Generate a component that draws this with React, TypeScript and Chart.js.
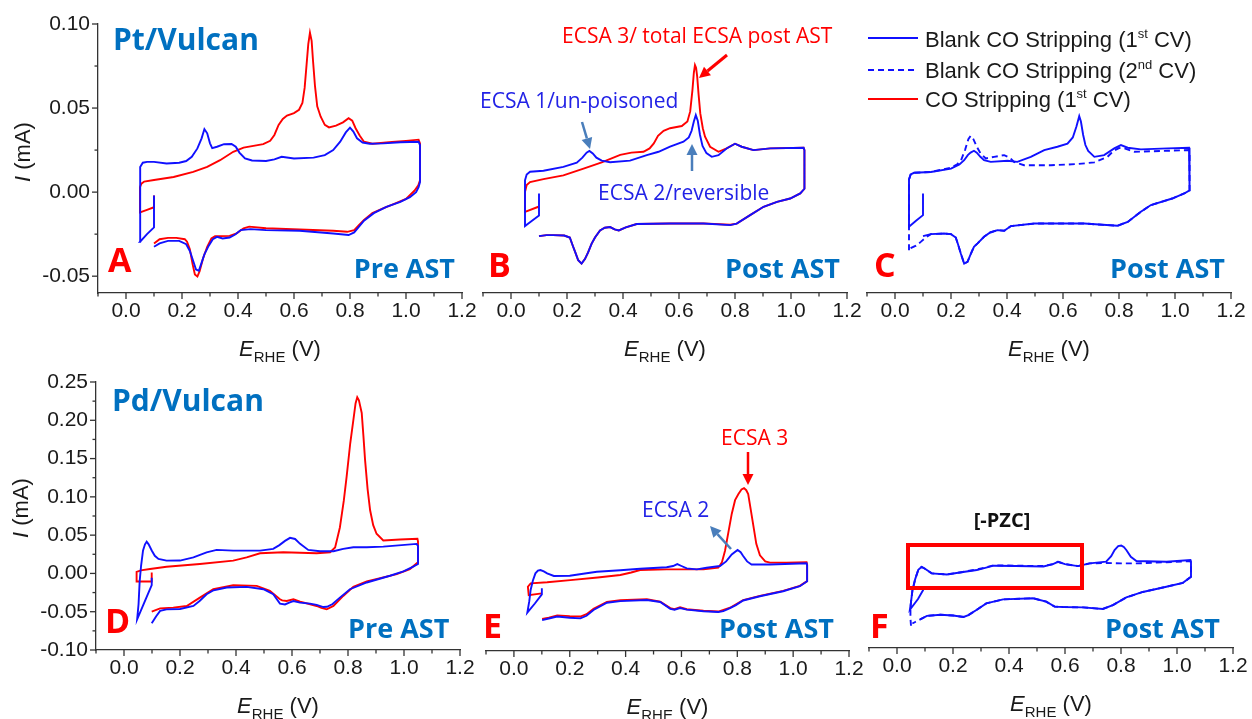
import React, { useEffect, useRef } from 'react';
import { Chart, registerables } from 'chart.js';

Chart.register(...registerables);

type Pt = [number, number];

// ---------- axis ticks ----------
const xTickValues = [0, 0.2, 0.4, 0.6, 0.8, 1.0, 1.2];
const xMinorValues = [-0.1, 0.1, 0.3, 0.5, 0.7, 0.9, 1.1];
const ptYTicks = [-0.05, 0, 0.05, 0.1];
const ptYMinor = [-0.025, 0.025, 0.075];
const pdYTicks = [-0.1, -0.05, 0, 0.05, 0.1, 0.15, 0.2, 0.25];
const pdYMinor = [-0.075, -0.025, 0.025, 0.075, 0.125, 0.175, 0.225];

// ---------- A: Pt/Vulcan pre AST ----------
const ptPreBlank: Pt[] = [
  [0.1, -0.002], [0.1, -0.021], [0.075, -0.025], [0.05, -0.0296], [0.05, -0.01], [0.05, 0.01], [0.052, 0.015],
  [0.06, 0.0175], [0.075, 0.018], [0.1, 0.018], [0.145, 0.017], [0.19, 0.0175], [0.215, 0.0185], [0.235, 0.021],
  [0.255, 0.026], [0.27, 0.032], [0.28, 0.0375], [0.29, 0.035], [0.3, 0.029], [0.308, 0.0262], [0.325, 0.027],
  [0.35, 0.0285], [0.377, 0.0286], [0.392, 0.027], [0.405, 0.0235], [0.425, 0.02], [0.45, 0.0188], [0.5, 0.0185],
  [0.53, 0.0195], [0.556, 0.021], [0.6, 0.02], [0.67, 0.0205], [0.71, 0.022], [0.74, 0.025], [0.765, 0.03],
  [0.785, 0.0355], [0.8, 0.0383], [0.812, 0.036], [0.825, 0.032], [0.845, 0.0295], [0.87, 0.0288], [0.92, 0.029],
  [0.98, 0.0297], [1.045, 0.03], [1.05, 0.028], [1.05, 0.006], [1.045, 0.003], [1.036, 0.0], [1.014, -0.003],
  [0.98, -0.0058], [0.93, -0.0088], [0.885, -0.0125], [0.85, -0.017], [0.83, -0.021], [0.815, -0.024],
  [0.795, -0.0255], [0.74, -0.0246], [0.62, -0.023], [0.5, -0.0226], [0.445, -0.022], [0.41, -0.0226],
  [0.39, -0.0252], [0.37, -0.027], [0.345, -0.0276], [0.325, -0.0266], [0.31, -0.028], [0.295, -0.032],
  [0.28, -0.037], [0.268, -0.043], [0.26, -0.0468], [0.25, -0.046], [0.24, -0.041], [0.228, -0.035],
  [0.215, -0.031], [0.19, -0.029], [0.15, -0.029], [0.12, -0.0305], [0.1, -0.0325],
];
const ptPreCO: Pt[] = [
  [0.1, -0.002], [0.1, -0.009], [0.075, -0.0105], [0.05, -0.012], [0.05, 0.003], [0.055, 0.005], [0.065, 0.0063],
  [0.1, 0.0072], [0.17, 0.009], [0.24, 0.012], [0.29, 0.015], [0.336, 0.019], [0.383, 0.024], [0.42, 0.0265],
  [0.49, 0.0285], [0.515, 0.0305], [0.53, 0.034], [0.545, 0.04], [0.56, 0.0435], [0.575, 0.0455], [0.6, 0.047],
  [0.618, 0.049], [0.63, 0.053], [0.638, 0.062], [0.645, 0.076], [0.651, 0.088], [0.657, 0.0948], [0.663, 0.09],
  [0.668, 0.078], [0.675, 0.063], [0.683, 0.051], [0.695, 0.045], [0.71, 0.04], [0.725, 0.0385], [0.75, 0.0395],
  [0.775, 0.0415], [0.795, 0.044], [0.808, 0.0425], [0.82, 0.038], [0.835, 0.0335], [0.85, 0.03], [0.88, 0.0288],
  [0.95, 0.0298], [1.0, 0.0305], [1.045, 0.0312], [1.05, 0.029], [1.05, 0.007], [1.044, 0.004], [1.03, 0.0008],
  [1.0, -0.004], [0.96, -0.0068], [0.92, -0.0095], [0.88, -0.0125], [0.85, -0.0165], [0.83, -0.02],
  [0.815, -0.0226], [0.79, -0.0236], [0.74, -0.023], [0.62, -0.0222], [0.5, -0.0215], [0.44, -0.0205],
  [0.42, -0.0215], [0.395, -0.0245], [0.37, -0.026], [0.34, -0.0262], [0.318, -0.0262], [0.305, -0.0275],
  [0.29, -0.0325], [0.275, -0.0395], [0.263, -0.047], [0.255, -0.0502], [0.246, -0.049], [0.238, -0.043],
  [0.228, -0.034], [0.218, -0.0295], [0.21, -0.028], [0.18, -0.0272], [0.15, -0.0272], [0.12, -0.028], [0.1, -0.0306],
];

// ---------- B: Pt/Vulcan post AST ----------
const ptPostBlank: Pt[] = [
  [0.1, -0.0008], [0.1, -0.0139], [0.075, -0.017], [0.05, -0.0202], [0.05, 0.0], [0.05, 0.007], [0.056, 0.0105],
  [0.068, 0.0121], [0.116, 0.0127], [0.187, 0.015], [0.235, 0.0175], [0.255, 0.0205], [0.27, 0.0235], [0.28, 0.0245],
  [0.292, 0.023], [0.305, 0.0205], [0.324, 0.0187], [0.354, 0.0178], [0.425, 0.0187], [0.485, 0.022], [0.527, 0.024],
  [0.568, 0.027], [0.616, 0.03], [0.635, 0.0325], [0.645, 0.0365], [0.653, 0.042], [0.66, 0.0458], [0.667, 0.0425],
  [0.675, 0.034], [0.684, 0.0275], [0.698, 0.0232], [0.717, 0.021], [0.741, 0.022], [0.77, 0.026], [0.8, 0.0288],
  [0.824, 0.027], [0.866, 0.025], [0.926, 0.026], [1.045, 0.0264], [1.048, 0.025], [1.048, 0.002], [1.033, -0.0008],
  [0.997, -0.0038], [0.95, -0.0058], [0.902, -0.0087], [0.854, -0.0137], [0.806, -0.0187], [0.783, -0.0196],
  [0.687, -0.0187], [0.568, -0.0187], [0.449, -0.019], [0.41, -0.021], [0.385, -0.0228], [0.37, -0.0222],
  [0.354, -0.0208], [0.335, -0.0212], [0.318, -0.0228], [0.3, -0.027], [0.288, -0.0306], [0.275, -0.036],
  [0.264, -0.0398], [0.252, -0.0425], [0.24, -0.0405], [0.23, -0.036], [0.222, -0.0325], [0.21, -0.027],
  [0.19, -0.0258], [0.15, -0.0256], [0.127, -0.0256], [0.1, -0.0262],
];
const ptPostCO: Pt[] = [
  [0.098, -0.0087], [0.05, -0.0117], [0.05, 0.0], [0.056, 0.0042], [0.068, 0.006], [0.116, 0.0077], [0.187, 0.01],
  [0.259, 0.014], [0.324, 0.0177], [0.39, 0.0222], [0.43, 0.0235], [0.473, 0.024], [0.495, 0.026], [0.51, 0.029],
  [0.525, 0.0335], [0.545, 0.0365], [0.568, 0.038], [0.61, 0.0393], [0.63, 0.042], [0.64, 0.048], [0.648, 0.0607],
  [0.653, 0.071], [0.657, 0.0756], [0.661, 0.074], [0.665, 0.0687], [0.67, 0.058], [0.676, 0.0468], [0.685, 0.038],
  [0.693, 0.033], [0.711, 0.027], [0.741, 0.024], [0.77, 0.026], [0.8, 0.0288], [0.824, 0.027], [0.866, 0.025],
  [0.926, 0.026], [1.045, 0.0264], [1.048, 0.025], [1.048, 0.002], [1.033, -0.0008], [0.997, -0.0038],
  [0.95, -0.0058], [0.902, -0.0087], [0.854, -0.0137], [0.806, -0.0187], [0.783, -0.0194], [0.687, -0.0186],
  [0.568, -0.0187], [0.449, -0.019], [0.41, -0.021], [0.385, -0.0228], [0.37, -0.0222], [0.354, -0.0208],
  [0.335, -0.0212], [0.318, -0.0228], [0.3, -0.027], [0.288, -0.0306], [0.275, -0.036], [0.264, -0.0398],
  [0.252, -0.0425], [0.24, -0.0405], [0.23, -0.036], [0.222, -0.0325], [0.21, -0.027], [0.19, -0.0258],
  [0.15, -0.0256], [0.127, -0.0256], [0.1, -0.0262],
];

// ---------- C: Pt/Vulcan post AST, blank 1st & 2nd CV ----------
const ptPostBlank1: Pt[] = [
  [0.1, -0.0008], [0.1, -0.0137], [0.075, -0.017], [0.05, -0.0206], [0.05, 0.0], [0.05, 0.0075], [0.056, 0.0105],
  [0.068, 0.0115], [0.128, 0.012], [0.2, 0.014], [0.23, 0.0165], [0.247, 0.019], [0.26, 0.022], [0.27, 0.0235],
  [0.282, 0.0246], [0.292, 0.0235], [0.305, 0.021], [0.318, 0.019], [0.342, 0.018], [0.402, 0.0187], [0.437, 0.018],
  [0.485, 0.021], [0.533, 0.025], [0.58, 0.027], [0.616, 0.0288], [0.635, 0.0325], [0.648, 0.039], [0.658, 0.0452],
  [0.664, 0.042], [0.672, 0.034], [0.68, 0.028], [0.69, 0.0245], [0.712, 0.021], [0.747, 0.022], [0.783, 0.026],
  [0.807, 0.028], [0.831, 0.0264], [0.878, 0.0254], [0.974, 0.026], [1.05, 0.0264], [1.052, 0.024], [1.052, 0.001],
  [1.033, -0.0008], [0.99, -0.0038], [0.914, -0.0077], [0.878, -0.0117], [0.831, -0.0177], [0.795, -0.02],
  [0.676, -0.0187], [0.497, -0.0187], [0.414, -0.0202], [0.39, -0.023], [0.366, -0.0226], [0.34, -0.024],
  [0.318, -0.0266], [0.295, -0.0305], [0.282, -0.0325], [0.27, -0.037], [0.259, -0.0415], [0.247, -0.0425],
  [0.235, -0.0365], [0.225, -0.031], [0.217, -0.027], [0.2, -0.025], [0.175, -0.0246], [0.128, -0.025], [0.1, -0.0262],
];
const ptPostBlank2: Pt[] = [
  [0.05, -0.0345], [0.05, -0.02], [0.05, 0.0], [0.05, 0.0075], [0.056, 0.0105], [0.068, 0.0115], [0.128, 0.012],
  [0.2, 0.0145], [0.222, 0.0165], [0.236, 0.019], [0.25, 0.025], [0.262, 0.0315], [0.27, 0.0335], [0.28, 0.0315],
  [0.292, 0.027], [0.305, 0.0232], [0.324, 0.02], [0.354, 0.021], [0.39, 0.022], [0.41, 0.0205], [0.425, 0.018],
  [0.461, 0.016], [0.557, 0.016], [0.652, 0.0167], [0.712, 0.0177], [0.759, 0.021], [0.78, 0.0245], [0.8, 0.0262],
  [0.819, 0.026], [0.855, 0.024], [0.974, 0.0246], [1.05, 0.025], [1.052, 0.023], [1.052, 0.001], [1.033, -0.0008],
  [0.99, -0.0038], [0.914, -0.0077], [0.878, -0.0117], [0.831, -0.0177], [0.795, -0.02], [0.676, -0.0187],
  [0.497, -0.0187], [0.414, -0.0202], [0.39, -0.023], [0.366, -0.0226], [0.34, -0.024], [0.318, -0.0266],
  [0.295, -0.0305], [0.282, -0.0325], [0.27, -0.037], [0.259, -0.0415], [0.247, -0.0425], [0.235, -0.0365],
  [0.225, -0.031], [0.217, -0.027], [0.2, -0.025], [0.175, -0.0246], [0.128, -0.025], [0.11, -0.027],
  [0.092, -0.0296], [0.075, -0.0318], [0.054, -0.0335],
];

// ---------- D: Pd/Vulcan pre AST ----------
const pdPreBlank: Pt[] = [
  [0.099, -0.0055], [0.099, -0.0152], [0.075, -0.036], [0.047, -0.06], [0.052, -0.04], [0.056, -0.01], [0.061, 0.01],
  [0.068, 0.03], [0.075, 0.038], [0.081, 0.0414], [0.088, 0.038], [0.099, 0.03], [0.11, 0.023], [0.123, 0.019],
  [0.152, 0.0167], [0.2, 0.0168], [0.248, 0.021], [0.295, 0.0276], [0.331, 0.0307], [0.39, 0.0298], [0.486, 0.0298],
  [0.533, 0.032], [0.555, 0.037], [0.575, 0.0425], [0.593, 0.0465], [0.611, 0.045], [0.629, 0.0386], [0.658, 0.0307],
  [0.7, 0.029], [0.748, 0.029], [0.783, 0.032], [0.819, 0.0342], [0.867, 0.0342], [0.926, 0.035], [1.045, 0.0386],
  [1.05, 0.036], [1.05, 0.0123], [1.033, 0.0088], [0.998, 0.0026], [0.95, -0.003], [0.867, -0.0118], [0.807, -0.0206],
  [0.771, -0.0316], [0.745, -0.04], [0.725, -0.0435], [0.712, -0.0439], [0.688, -0.041], [0.664, -0.0395],
  [0.629, -0.0382], [0.605, -0.036], [0.59, -0.038], [0.575, -0.0405], [0.557, -0.0395], [0.533, -0.0272],
  [0.498, -0.0206], [0.438, -0.0175], [0.367, -0.0184], [0.32, -0.022], [0.295, -0.0272], [0.27, -0.036],
  [0.248, -0.0425], [0.2, -0.0465], [0.152, -0.0469], [0.129, -0.049], [0.115, -0.056], [0.099, -0.065],
];
const pdPreCO: Pt[] = [
  [0.099, 0.0013], [0.099, -0.0064], [0.099, -0.0106], [0.045, -0.0106], [0.045, 0.002], [0.06, 0.004], [0.093, 0.0057],
  [0.152, 0.0088], [0.271, 0.0123], [0.39, 0.0167], [0.438, 0.021], [0.486, 0.0263], [0.569, 0.0276], [0.688, 0.0263],
  [0.736, 0.0276], [0.754, 0.034], [0.771, 0.06], [0.785, 0.095], [0.795, 0.126], [0.808, 0.17], [0.819, 0.2],
  [0.827, 0.222], [0.833, 0.23], [0.839, 0.226], [0.849, 0.2096], [0.855, 0.18], [0.861, 0.148], [0.87, 0.11],
  [0.879, 0.0825], [0.89, 0.063], [0.902, 0.0518], [0.926, 0.043], [0.986, 0.0443], [1.048, 0.0452], [1.05, 0.042],
  [1.05, 0.0145], [1.021, 0.0057], [0.974, -0.001], [0.867, -0.0105], [0.819, -0.0175], [0.783, -0.0294],
  [0.748, -0.0425], [0.724, -0.0469], [0.705, -0.045], [0.688, -0.0425], [0.629, -0.0368], [0.605, -0.0338],
  [0.581, -0.036], [0.565, -0.0352], [0.557, -0.0338], [0.521, -0.0228], [0.474, -0.0162], [0.39, -0.0154],
  [0.319, -0.0206], [0.271, -0.0316], [0.224, -0.0425], [0.176, -0.0447], [0.129, -0.0456], [0.099, -0.05],
];

// ---------- E: Pd/Vulcan post AST ----------
const pdPostBlank: Pt[] = [
  [0.1, -0.018], [0.1, -0.026], [0.075, -0.038], [0.048, -0.05], [0.055, -0.035], [0.06, -0.02], [0.068, -0.008],
  [0.077, 0.0014], [0.086, 0.005], [0.095, 0.0057], [0.107, 0.004], [0.119, 0.0014], [0.143, -0.002], [0.2, -0.0018],
  [0.26, 0.0015], [0.297, 0.0035], [0.381, 0.0055], [0.452, 0.0075], [0.547, 0.0094], [0.57, 0.011], [0.585, 0.0135],
  [0.6, 0.011], [0.619, 0.0079], [0.655, 0.0066], [0.69, 0.0088], [0.738, 0.011], [0.76, 0.017], [0.78, 0.026],
  [0.801, 0.032], [0.812, 0.029], [0.821, 0.024], [0.835, 0.017], [0.851, 0.013], [0.917, 0.013], [1.048, 0.0145],
  [1.05, 0.012], [1.05, -0.0088], [1.024, -0.0154], [0.964, -0.022], [0.881, -0.0285], [0.821, -0.034],
  [0.795, -0.04], [0.774, -0.044], [0.75, -0.048], [0.732, -0.049], [0.679, -0.048], [0.619, -0.046],
  [0.595, -0.0439], [0.575, -0.046], [0.56, -0.045], [0.524, -0.036], [0.476, -0.0334], [0.381, -0.0348],
  [0.333, -0.037], [0.285, -0.0465], [0.26, -0.054], [0.238, -0.0574], [0.2, -0.0565], [0.155, -0.055],
  [0.125, -0.0575], [0.101, -0.0596],
];
const pdPostCO: Pt[] = [
  [0.1, -0.0247], [0.053, -0.027], [0.05, -0.016], [0.06, -0.0116], [0.119, -0.0102], [0.202, -0.0075],
  [0.3, -0.004], [0.381, -0.0008], [0.42, 0.0025], [0.452, 0.0057], [0.547, 0.0066], [0.679, 0.0066],
  [0.732, 0.0088], [0.745, 0.016], [0.756, 0.031], [0.768, 0.055], [0.78, 0.079], [0.792, 0.097], [0.804, 0.105],
  [0.815, 0.111], [0.824, 0.1127], [0.832, 0.11], [0.839, 0.105], [0.848, 0.085], [0.857, 0.0646], [0.868, 0.04],
  [0.881, 0.025], [0.9, 0.017], [0.917, 0.0154], [0.976, 0.0154], [1.048, 0.016], [1.05, 0.013], [1.05, -0.0088],
  [1.024, -0.015], [0.964, -0.0215], [0.881, -0.028], [0.821, -0.0335], [0.774, -0.0435], [0.732, -0.0485],
  [0.679, -0.0475], [0.619, -0.0455], [0.595, -0.043], [0.575, -0.0455], [0.56, -0.044], [0.524, -0.0355],
  [0.476, -0.0325], [0.381, -0.0338], [0.333, -0.036], [0.285, -0.045], [0.26, -0.052], [0.238, -0.055],
  [0.2, -0.0545], [0.155, -0.0535], [0.125, -0.0565], [0.101, -0.058],
];

// ---------- F: Pd/Vulcan post AST, blank 1st & 2nd CV ----------
const pdPostBlank1: Pt[] = [
  [0.094, -0.024], [0.075, -0.036], [0.046, -0.05], [0.05, -0.04], [0.055, -0.025], [0.065, -0.01], [0.076, 0.002],
  [0.088, 0.006], [0.1, 0.0035], [0.124, -0.0025], [0.178, -0.004], [0.23, -0.001], [0.285, 0.0018], [0.345, 0.0075],
  [0.425, 0.007], [0.523, 0.0064], [0.557, 0.0096], [0.575, 0.0125], [0.6, 0.0096], [0.646, 0.007],
  [0.688, 0.0105], [0.747, 0.0127], [0.765, 0.02], [0.777, 0.028], [0.79, 0.033], [0.801, 0.0338], [0.81, 0.032],
  [0.819, 0.028], [0.835, 0.019], [0.855, 0.0136], [0.962, 0.0127], [1.048, 0.0149], [1.05, 0.012], [1.05, -0.007],
  [1.021, -0.0149], [0.962, -0.02], [0.878, -0.0268], [0.819, -0.034], [0.771, -0.044], [0.735, -0.049],
  [0.664, -0.047], [0.592, -0.0465], [0.563, -0.046], [0.533, -0.0395], [0.486, -0.035], [0.379, -0.0365],
  [0.319, -0.0417], [0.285, -0.05], [0.255, -0.057], [0.238, -0.0594], [0.2, -0.0575], [0.155, -0.0565],
  [0.107, -0.058], [0.083, -0.0626],
];
const pdPostBlank2: Pt[] = [
  [0.05, -0.071], [0.048, -0.061], [0.048, -0.05], [0.05, -0.04], [0.055, -0.025], [0.065, -0.01], [0.076, 0.002],
  [0.088, 0.006], [0.1, 0.0035], [0.124, -0.0025], [0.178, -0.004], [0.23, -0.001], [0.285, 0.0025], [0.345, 0.008],
  [0.425, 0.0075], [0.523, 0.007], [0.557, 0.0096], [0.575, 0.0125], [0.6, 0.0096], [0.646, 0.007],
  [0.688, 0.0105], [0.747, 0.011], [0.8, 0.0105], [0.855, 0.0105], [0.962, 0.012], [1.048, 0.0135], [1.05, 0.011],
  [1.05, -0.007], [1.021, -0.0149], [0.962, -0.02], [0.878, -0.0268], [0.819, -0.034], [0.771, -0.044],
  [0.735, -0.049], [0.664, -0.047], [0.592, -0.0465], [0.563, -0.046], [0.533, -0.0395], [0.486, -0.035],
  [0.379, -0.0365], [0.319, -0.0417], [0.285, -0.05], [0.255, -0.057], [0.238, -0.0594], [0.2, -0.0575],
  [0.155, -0.0565], [0.107, -0.058], [0.083, -0.0626], [0.065, -0.066], [0.055, -0.068],
];

// ---------- styles ----------
const W = 1252;
const H = 719;
const X_AXIS_H = 40;
const BLUE = '#1010FF';
const RED = '#FF0000';
const TITLE_BLUE = '#0070C0';
const TEXT_BLUE = '#2222E6';
const ARROW_BLUE = '#4A7EBB';
const AXIS_COLOR = '#333333';
const SANS = '"Liberation Sans", Arial, sans-serif';
const OPEN = '"Open Sans", "Noto Sans", sans-serif';
const F_TITLE = `bold 30px ${OPEN}`;
const F_LETTER = `bold 34px ${OPEN}`;
const F_AST = `bold 27px ${OPEN}`;
const F_ANN = `21px ${OPEN}`;
const TICK_FONT = 21;

interface Series { data: Pt[]; color: string; dash?: number[] }
interface Txt { text: string; x: number; y: number; font: string; color: string; align?: CanvasTextAlign }
interface Arrow { x1: number; y1: number; x2: number; y2: number; color: string; width: number }
interface Panel {
  area: { left: number; top: number; right: number; bottom: number };
  yMin: number; yMax: number; yTicks: number[]; yMinor: number[]; showY: boolean; yTitleCenter: number;
  series: Series[]; texts: Txt[]; arrows: Arrow[]; legend?: boolean;
  box?: { x: number; y: number; w: number; h: number };
}

const DASH = [6, 4];

const panels: Panel[] = [
  {
    area: { left: 98, top: 24, right: 462, bottom: 293 }, yMin: -0.06, yMax: 0.1, yTicks: ptYTicks, yMinor: ptYMinor,
    showY: true, yTitleCenter: 152,
    series: [{ data: ptPreBlank, color: BLUE }, { data: ptPreCO, color: RED }],
    texts: [
      { text: 'Pt/Vulcan', x: 113, y: 50, font: F_TITLE, color: TITLE_BLUE },
      { text: 'A', x: 108, y: 272, font: F_LETTER, color: RED },
      { text: 'Pre AST', x: 455, y: 278, font: F_AST, color: TITLE_BLUE, align: 'right' },
    ],
    arrows: [],
  },
  {
    area: { left: 483, top: 24, right: 847, bottom: 293 }, yMin: -0.06, yMax: 0.1, yTicks: ptYTicks, yMinor: ptYMinor,
    showY: false, yTitleCenter: 152,
    series: [{ data: ptPostBlank, color: BLUE }, { data: ptPostCO, color: RED }],
    texts: [
      { text: 'B', x: 488, y: 277, font: F_LETTER, color: RED },
      { text: 'Post AST', x: 725, y: 278, font: F_AST, color: TITLE_BLUE },
      { text: 'ECSA 3/ total ECSA post AST', x: 562, y: 43, font: F_ANN, color: RED },
      { text: 'ECSA 1/un-poisoned', x: 480, y: 108, font: F_ANN, color: TEXT_BLUE },
      { text: 'ECSA 2/reversible', x: 598, y: 200, font: F_ANN, color: TEXT_BLUE },
    ],
    arrows: [
      { x1: 727, y1: 55, x2: 699, y2: 78, color: RED, width: 3 },
      { x1: 582, y1: 122, x2: 590, y2: 149, color: ARROW_BLUE, width: 2.5 },
      { x1: 692, y1: 171, x2: 692, y2: 144, color: ARROW_BLUE, width: 2.5 },
    ],
  },
  {
    area: { left: 867, top: 24, right: 1231, bottom: 293 }, yMin: -0.06, yMax: 0.1, yTicks: ptYTicks, yMinor: ptYMinor,
    showY: false, yTitleCenter: 152,
    series: [{ data: ptPostBlank1, color: BLUE }, { data: ptPostBlank2, color: BLUE, dash: DASH }],
    texts: [
      { text: 'C', x: 874, y: 277, font: F_LETTER, color: RED },
      { text: 'Post AST', x: 1110, y: 278, font: F_AST, color: TITLE_BLUE },
    ],
    arrows: [], legend: true,
  },
  {
    area: { left: 96, top: 382, right: 460, bottom: 650 }, yMin: -0.1, yMax: 0.25, yTicks: pdYTicks, yMinor: pdYMinor,
    showY: true, yTitleCenter: 508,
    series: [{ data: pdPreBlank, color: BLUE }, { data: pdPreCO, color: RED }],
    texts: [
      { text: 'Pd/Vulcan', x: 112, y: 411, font: F_TITLE, color: TITLE_BLUE },
      { text: 'D', x: 105, y: 633, font: F_LETTER, color: RED },
      { text: 'Pre AST', x: 348, y: 638, font: F_AST, color: TITLE_BLUE },
    ],
    arrows: [],
  },
  {
    area: { left: 486, top: 383, right: 849, bottom: 651 }, yMin: -0.1, yMax: 0.25, yTicks: pdYTicks, yMinor: pdYMinor,
    showY: false, yTitleCenter: 508,
    series: [{ data: pdPostBlank, color: BLUE }, { data: pdPostCO, color: RED }],
    texts: [
      { text: 'E', x: 483, y: 638, font: F_LETTER, color: RED },
      { text: 'Post AST', x: 719, y: 638, font: F_AST, color: TITLE_BLUE },
      { text: 'ECSA 3', x: 721, y: 445, font: F_ANN, color: RED },
      { text: 'ECSA 2', x: 642, y: 517, font: F_ANN, color: TEXT_BLUE },
    ],
    arrows: [
      { x1: 748, y1: 452, x2: 748, y2: 485, color: RED, width: 2.5 },
      { x1: 731, y1: 549, x2: 710, y2: 526, color: ARROW_BLUE, width: 2.5 },
    ],
  },
  {
    area: { left: 869, top: 380, right: 1233, bottom: 648 }, yMin: -0.1, yMax: 0.25, yTicks: pdYTicks, yMinor: pdYMinor,
    showY: false, yTitleCenter: 508,
    series: [{ data: pdPostBlank1, color: BLUE }, { data: pdPostBlank2, color: BLUE, dash: DASH }],
    texts: [
      { text: 'F', x: 870, y: 638, font: F_LETTER, color: RED },
      { text: 'Post AST', x: 1105, y: 638, font: F_AST, color: TITLE_BLUE },
      { text: '[-PZC]', x: 1002, y: 527, font: `bold 20px ${OPEN}`, color: '#111111', align: 'center' },
    ],
    arrows: [],
    box: { x: 908, y: 545, w: 174, h: 43 },
  },
];

function drawArrow(ctx: CanvasRenderingContext2D, a: Arrow) {
  const ang = Math.atan2(a.y2 - a.y1, a.x2 - a.x1);
  const head = 11;
  const hw = 5.5;
  const bx = a.x2 - head * Math.cos(ang);
  const by = a.y2 - head * Math.sin(ang);
  ctx.strokeStyle = a.color;
  ctx.lineWidth = a.width;
  ctx.setLineDash([]);
  ctx.beginPath();
  ctx.moveTo(a.x1, a.y1);
  ctx.lineTo(bx, by);
  ctx.stroke();
  ctx.fillStyle = a.color;
  ctx.beginPath();
  ctx.moveTo(a.x2, a.y2);
  ctx.lineTo(bx + hw * Math.sin(ang), by - hw * Math.cos(ang));
  ctx.lineTo(bx - hw * Math.sin(ang), by + hw * Math.cos(ang));
  ctx.closePath();
  ctx.fill();
}

type Seg = { text: string; font: string; dy?: number };
function drawRich(ctx: CanvasRenderingContext2D, segs: Seg[], x: number, y: number, align: 'left' | 'center') {
  let total = 0;
  for (const s of segs) { ctx.font = s.font; total += ctx.measureText(s.text).width; }
  let cx = align === 'center' ? x - total / 2 : x;
  ctx.textAlign = 'left';
  for (const s of segs) {
    ctx.font = s.font;
    ctx.fillText(s.text, cx, y + (s.dy || 0));
    cx += ctx.measureText(s.text).width;
  }
}

const LEG = `22px ${SANS}`;
const LEG_SUP = `13px ${SANS}`;
const legendRows: { parts: Seg[]; color: string; dash?: number[] }[] = [
  { parts: [{ text: 'Blank CO Stripping (1', font: LEG }, { text: 'st', font: LEG_SUP, dy: -9 }, { text: ' CV)', font: LEG }], color: BLUE },
  { parts: [{ text: 'Blank CO Stripping (2', font: LEG }, { text: 'nd', font: LEG_SUP, dy: -9 }, { text: ' CV)', font: LEG }], color: BLUE, dash: DASH },
  { parts: [{ text: 'CO Stripping (1', font: LEG }, { text: 'st', font: LEG_SUP, dy: -9 }, { text: ' CV)', font: LEG }], color: RED },
];
const legendLineY = [38, 70, 99];
const legendBaseY = [47, 78, 107];

function makeDecor(p: Panel) {
  return {
    id: 'decor',
    afterDraw(chart: any) {
      const ctx: CanvasRenderingContext2D = chart.ctx;
      const { left, right, bottom } = chart.chartArea;
      const xs = chart.scales.x;
      const ys = chart.scales.y;
      ctx.save();
      ctx.strokeStyle = AXIS_COLOR;
      ctx.lineWidth = 1.3;
      ctx.setLineDash([]);
      const tick = (x1: number, y1: number, x2: number, y2: number) => {
        ctx.beginPath(); ctx.moveTo(x1, y1); ctx.lineTo(x2, y2); ctx.stroke();
      };
      for (const v of xTickValues) { const px = xs.getPixelForValue(v); tick(px, bottom, px, bottom + 6); }
      for (const v of xMinorValues) { const px = xs.getPixelForValue(v); tick(px, bottom, px, bottom + 3.5); }
      if (p.showY) {
        for (const v of p.yTicks) { const py = ys.getPixelForValue(v); tick(left, py, left - 6, py); }
        for (const v of p.yMinor) { const py = ys.getPixelForValue(v); tick(left, py, left - 3.5, py); }
      }
      // axis titles
      ctx.fillStyle = '#1a1a1a';
      ctx.textBaseline = 'alphabetic';
      drawRich(ctx, [
        { text: 'E', font: `italic 22px ${SANS}` },
        { text: 'RHE', font: `15px ${SANS}`, dy: 6 },
        { text: ' (V)', font: `22px ${SANS}` },
      ], (left + right) / 2, bottom + 63, 'center');
      if (p.showY) {
        ctx.save();
        ctx.translate(left - 74, p.yTitleCenter);
        ctx.rotate(-Math.PI / 2);
        ctx.textBaseline = 'middle';
        drawRich(ctx, [
          { text: 'I', font: `italic 22px ${SANS}` },
          { text: ' (mA)', font: `22px ${SANS}` },
        ], 0, 0, 'center');
        ctx.restore();
      }
      // texts
      ctx.textBaseline = 'alphabetic';
      for (const t of p.texts) {
        ctx.font = t.font;
        ctx.fillStyle = t.color;
        ctx.textAlign = t.align || 'left';
        ctx.fillText(t.text, t.x, t.y);
      }
      for (const a of p.arrows) drawArrow(ctx, a);
      if (p.box) {
        ctx.strokeStyle = RED;
        ctx.lineWidth = 4;
        ctx.setLineDash([]);
        ctx.strokeRect(p.box.x, p.box.y, p.box.w, p.box.h);
      }
      if (p.legend) {
        legendRows.forEach((r, i) => {
          ctx.strokeStyle = r.color;
          ctx.lineWidth = 1.8;
          ctx.setLineDash(r.dash || []);
          ctx.beginPath();
          ctx.moveTo(868, legendLineY[i]);
          ctx.lineTo(918, legendLineY[i]);
          ctx.stroke();
          ctx.setLineDash([]);
          ctx.fillStyle = '#1a1a1a';
          drawRich(ctx, r.parts, 925, legendBaseY[i], 'left');
        });
      }
      ctx.restore();
    },
  };
}

function buildChart(canvas: HTMLCanvasElement, p: Panel) {
  const padLeft = p.showY ? 0 : p.area.left;
  return new Chart(canvas, {
    type: 'scatter',
    data: {
      datasets: p.series.map((s) => ({
        data: s.data.map(([x, y]) => ({ x, y })),
        showLine: true,
        borderColor: s.color,
        backgroundColor: s.color,
        borderWidth: 1.9,
        borderDash: s.dash || [],
        pointRadius: 0,
        tension: 0,
        fill: false,
      })),
    },
    options: {
      animation: false,
      responsive: false,
      maintainAspectRatio: false,
      events: [],
      layout: {
        padding: {
          left: padLeft,
          top: p.area.top,
          right: W - p.area.right,
          bottom: H - p.area.bottom - X_AXIS_H,
        },
      },
      plugins: { legend: { display: false }, tooltip: { enabled: false }, title: { display: false } },
      scales: {
        x: {
          type: 'linear',
          min: -0.1,
          max: 1.2,
          afterBuildTicks: (s: any) => { s.ticks = xTickValues.map((v) => ({ value: v })); },
          afterFit: (s: any) => { s.height = X_AXIS_H; },
          ticks: {
            padding: 0,
            color: '#1a1a1a',
            font: { family: SANS, size: TICK_FONT },
            maxRotation: 0,
            autoSkip: false,
            callback: (v: any) => Number(v).toFixed(1),
          },
          grid: { display: false, drawTicks: true, tickLength: 6 },
          border: { display: true, color: AXIS_COLOR, width: 1.3 },
        },
        y: {
          type: 'linear',
          display: p.showY,
          min: p.yMin,
          max: p.yMax,
          afterBuildTicks: (s: any) => { s.ticks = p.yTicks.map((v) => ({ value: v })); },
          afterFit: (s: any) => { if (p.showY) s.width = p.area.left; },
          ticks: {
            padding: 2,
            color: '#1a1a1a',
            font: { family: SANS, size: TICK_FONT },
            autoSkip: false,
            callback: (v: any) => Number(v).toFixed(2),
          },
          grid: { display: false, drawTicks: true, tickLength: 6 },
          border: { display: true, color: AXIS_COLOR, width: 1.3 },
        },
      },
    } as any,
    plugins: [makeDecor(p)],
  });
}

export default function App() {
  const refs = useRef<(HTMLCanvasElement | null)[]>([]);
  useEffect(() => {
    document.body.style.margin = '0';
    const charts = panels.map((p, i) => buildChart(refs.current[i] as HTMLCanvasElement, p));
    return () => { charts.forEach((c) => c.destroy()); };
  }, []);
  return (
    <div style={{ position: 'absolute', left: 0, top: 0, width: W, height: H, background: '#ffffff', overflow: 'hidden' }}>
      {panels.map((_, i) => (
        <canvas
          key={i}
          ref={(el) => { refs.current[i] = el; }}
          width={W}
          height={H}
          style={{ position: 'absolute', left: 0, top: 0, width: W, height: H }}
        />
      ))}
    </div>
  );
}
